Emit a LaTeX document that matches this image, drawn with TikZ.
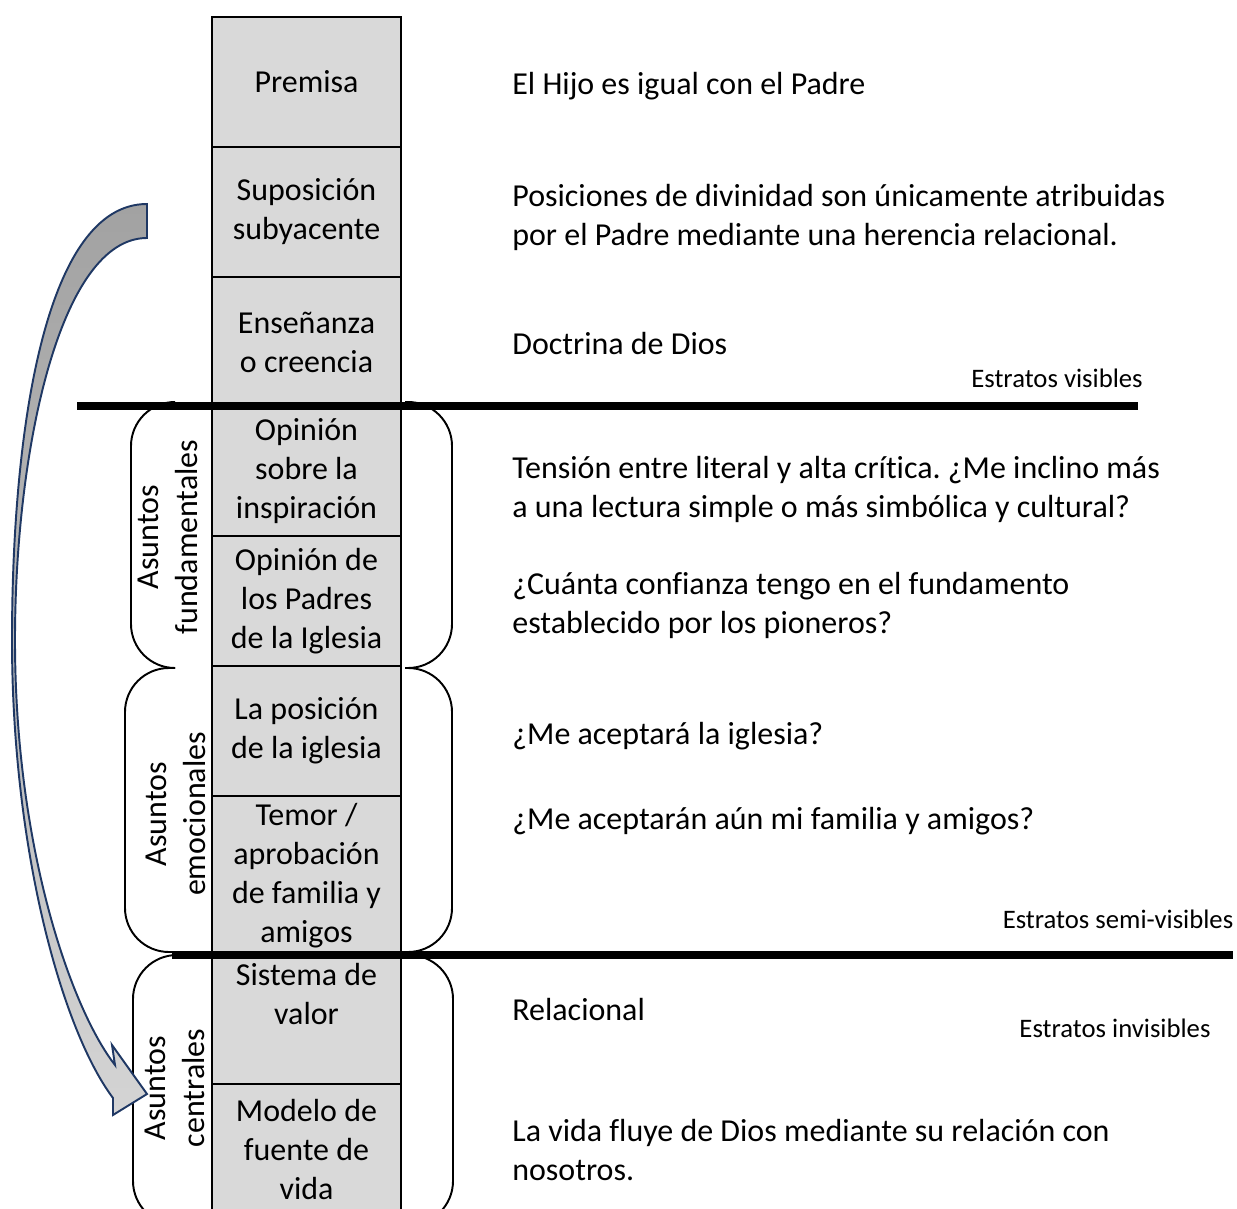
\documentclass[tikz,border=0pt]{standalone}
\usepackage{fontspec}
\setmainfont{Carlito}[Ligatures=NoCommon]
\usetikzlibrary{positioning}
\frenchspacing

\definecolor{layergray}{HTML}{D9D9D9}
\definecolor{arrowline}{HTML}{1F3864}
\definecolor{arrowtop}{HTML}{A2A2A2}
\definecolor{arrowbot}{HTML}{D4D4D4}

\begin{document}
\begin{tikzpicture}[
  x=0.02cm, y=-0.02cm,
  font=\fontsize{18.2}{22.2}\selectfont,
  layer/.style={draw=black, line width=0.8pt, fill=layergray, minimum width=3.78cm, inner sep=0pt, align=center},
  boxtext/.style={inner sep=0pt, align=center},
  note/.style={anchor=west, inner sep=0pt, align=left},
  tag/.style={inner sep=0pt, font=\fontsize{15.2}{18}\selectfont},
  group/.style={rotate=90, inner sep=0pt, align=center},
  bracket/.style={draw=black, line width=1.1pt, rounded corners=0.88cm},
  strata/.style={line width=4.5pt},
  flowarrow/.style={draw=arrowline, line width=1.1pt, top color=arrowtop, bottom color=arrowbot},
]
  \useasboundingbox (0,0) rectangle (1237,1209);

  % Column of layers
  \node[layer, minimum height=2.6cm]  (premisa)   at (306.5,82)   {Premisa};
  \node[layer, minimum height=2.6cm]  (suposicion) at (306.5,212) {Suposición\\subyacente};
  \node[layer, minimum height=2.6cm]  (ensenanza) at (306.5,342)  {Enseñanza\\o creencia};
  \node[layer, minimum height=2.58cm] (inspiracion) at (306.5,471.5) {Opinión\\sobre la\\inspiración};
  \node[layer, minimum height=2.6cm]  (padres)    at (306.5,601)  {Opinión de\\los Padres\\de la Iglesia};
  \node[layer, minimum height=2.6cm]  (posicion)  at (306.5,731)  {La posición\\de la iglesia};
  \node[layer, minimum height=3.18cm] (temor)     at (306.5,875.5) {Temor /\\aprobación\\de familia y\\amigos};
  \node[layer, minimum height=2.58cm] (sistema)   at (306.5,1019.5) {};
  \node[boxtext, below=0.18cm of sistema.north] (sistematxt) {Sistema de\\valor};
  \node[layer, minimum height=2.64cm] (modelo)    at (306.5,1150) {Modelo de\\fuente de\\vida};

  % Brackets round the groups
  \draw[bracket] (175,402) -- (131,402) -- (131,668) -- (175,668);
  \draw[bracket] (405,402) -- (452,402) -- (452,668) -- (405,668);
  \draw[bracket] (175,668) -- (125,668) -- (125,952) -- (175,952);
  \draw[bracket] (405,668) -- (452,668) -- (452,952) -- (405,952);
  \draw[bracket] (172,955) -- (133,955) -- (133,1225) -- (175,1225);
  \draw[bracket] (405,955) -- (453,955) -- (453,1225) -- (405,1225);

  % Curved arrow (from the underlying supposition down to the core)
  \draw[flowarrow] (147,204) .. controls (45,204) and (12,430) .. (12,640)
    .. controls (12,850) and (62,1030) .. (113,1098)
    -- (113,1115) -- (147,1094) -- (112,1045) -- (115,1065)
    .. controls (72,1010) and (15,850) .. (15,640)
    .. controls (15,450) and (60,238) .. (147,238) -- cycle;

  % Group labels
  \node[group] (fund)  at (168,537)  {Asuntos\\fundamentales};
  \node[group] (emoc)  at (176,814)  {Asuntos\\emocionales};
  \node[group] (centr) at (175,1088) {Asuntos\\centrales};

  % Strata lines
  \draw[strata] (77,406) -- (1138,406);
  \draw[strata] (172,955) -- (1233,955);
  \node[tag] (visibles)  at (1057,378)  {Estratos visibles};
  \node[tag] (semivis)   at (1118,919)  {Estratos semi-visibles};
  \node[tag] (invisibles) at (1115,1028) {Estratos invisibles};

  % Descriptions
  \node[note] (d1) at (512,86)   {El Hijo es igual con el Padre};
  \node[note] (d2) at (512,217)  {Posiciones de divinidad son únicamente atribuidas\\por el Padre mediante una herencia relacional.};
  \node[note] (d3) at (512,344)  {Doctrina de Dios};
  \node[note] (d4) at (512,489)  {Tensión entre literal y alta crítica. ¿Me inclino más\\a una lectura simple o más simbólica y cultural?};
  \node[note] (d5) at (512,605)  {¿Cuánta confianza tengo en el fundamento\\establecido por los pioneros?};
  \node[note] (d6) at (512,736)  {¿Me aceptará la iglesia?};
  \node[note] (d7) at (512,821)  {¿Me aceptarán aún mi familia y amigos?};
  \node[note] (d8) at (512,1010) {Relacional};
  \node[note] (d9) at (512,1150) {La vida fluye de Dios mediante su relación con\\nosotros.};
\end{tikzpicture}
\end{document}
